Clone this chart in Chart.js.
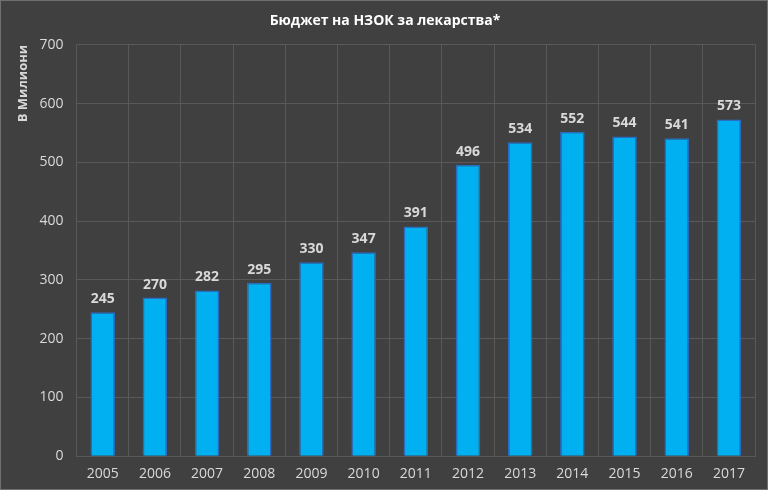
<!DOCTYPE html>
<html>
<head>
  <meta charset="utf-8">
  <title>НЗОК</title>
  <style>
    html, body { margin: 0; padding: 0; background: #404040; }
    #wrap { width: 768px; height: 490px; box-sizing: border-box; border: 1px solid #707070; background: #404040; }
  </style>
</head>
<body>
  <script src="https://cdn.jsdelivr.net/npm/chart.js"></script>
  <div id="wrap">
    <canvas id="myChart" width="766" height="488"></canvas>
  </div>

  <script>
    // data
    var years = ['2005', '2006', '2007', '2008', '2009', '2010', '2011', '2012', '2013', '2014', '2015', '2016', '2017'];
    var budget = [245, 270, 282, 295, 330, 347, 391, 496, 534, 552, 544, 541, 573];

    // simple value labels above each bar
    const valueLabels = {
      id: 'valueLabels',
      afterDatasetsDraw(chart) {
        const ctx = chart.ctx;
        const meta = chart.getDatasetMeta(0);
        ctx.save();
        ctx.font = 'bold 14px "Open Sans", "DejaVu Sans", sans-serif';
        ctx.fillStyle = '#d9d9d9';
        ctx.textAlign = 'center';
        ctx.textBaseline = 'bottom';
        meta.data.forEach(function (bar, i) {
          ctx.fillText(budget[i], bar.x, bar.y - 6);
        });
        ctx.restore();
      }
    };

    const ctx = document.getElementById('myChart').getContext('2d');
    const myChart = new Chart(ctx, {
      type: 'bar',
      data: {
        labels: years,
        datasets: [{
          data: budget,
          backgroundColor: '#00b0f0',
          borderColor: '#2a6bc0',
          borderWidth: 1.5,
          categoryPercentage: 1,
          barPercentage: 0.47
        }]
      },
      options: {
        responsive: false,
        animation: false,
        layout: { padding: { left: 14, right: 12, top: 4, bottom: -2 } },
        plugins: {
          legend: { display: false },
          tooltip: { enabled: false },
          title: {
            display: true,
            text: 'Бюджет на НЗОК за лекарства*',
            color: '#ffffff',
            font: { family: '"Open Sans", "DejaVu Sans", sans-serif', size: 14, weight: 'bold' },
            padding: { top: 8, bottom: 15 }
          }
        },
        scales: {
          x: {
            grid: { color: '#595959', offset: true, drawTicks: false },
            border: { color: '#595959' },
            ticks: {
              color: '#d9d9d9',
              padding: 9,
              font: { family: '"Open Sans", "DejaVu Sans", sans-serif', size: 14 }
            }
          },
          y: {
            min: 0,
            max: 700,
            ticks: {
              stepSize: 100,
              color: '#d9d9d9',
              padding: 13,
              font: { family: '"Open Sans", "DejaVu Sans", sans-serif', size: 14 }
            },
            grid: { color: '#595959', drawTicks: false },
            border: { display: false },
            title: {
              display: true,
              align: 'end',
              text: 'В Милиони',
              color: '#d9d9d9',
              font: { family: '"Open Sans", "DejaVu Sans", sans-serif', size: 13, weight: 'bold' },
              padding: { top: 0, bottom: -4 }
            }
          }
        }
      },
      plugins: [valueLabels]
    });
  </script>
</body>
</html>
